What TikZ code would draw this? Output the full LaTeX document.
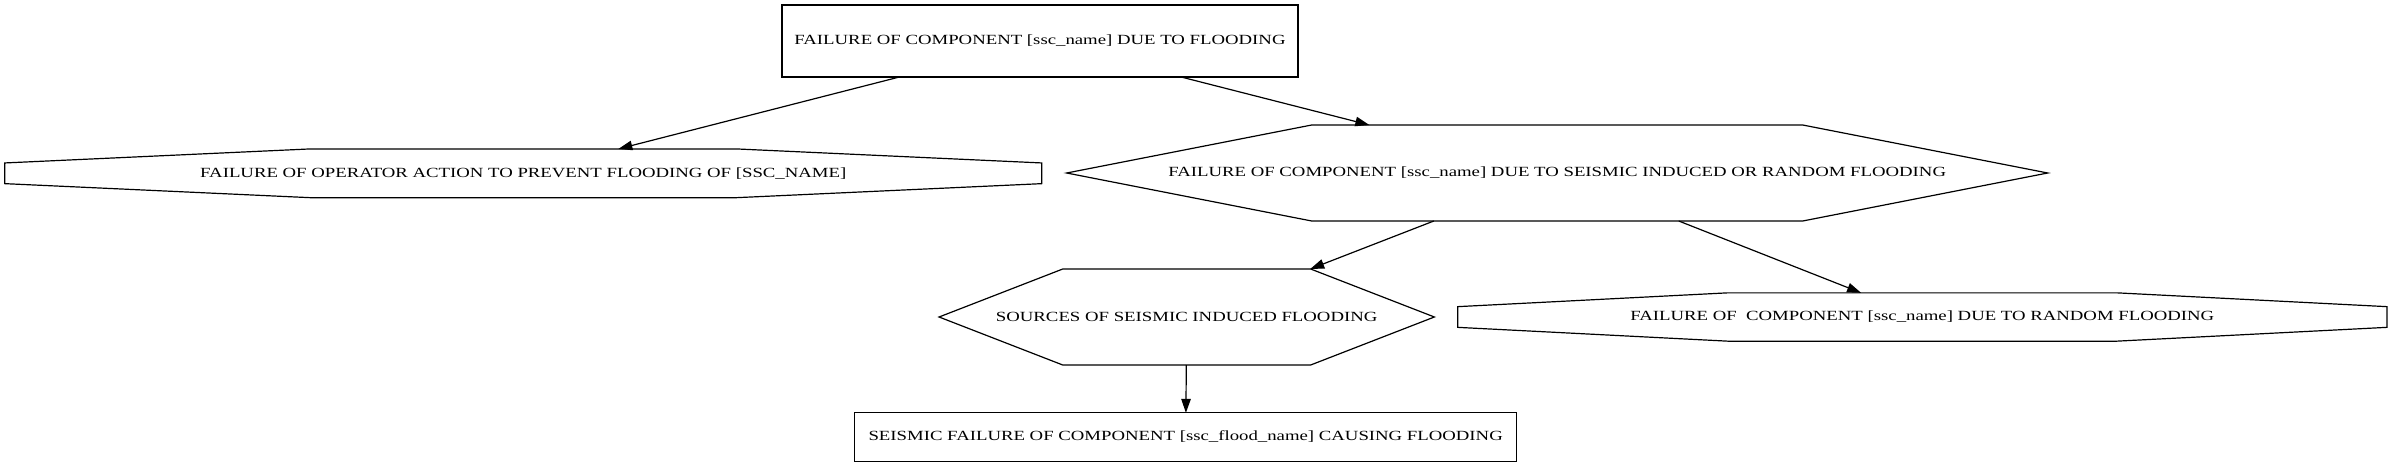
\documentclass[tikz,border=0pt]{standalone}
\usepackage{fontspec}
\setmainfont{Liberation Serif}[FakeStretch=1.34]
\usetikzlibrary{arrows.meta}
\tikzset{
    %Define standard arrow tip
    >={Triangle[length=14pt,width=9.5pt]},
}
% octagon outline round node #1, corners cut by #2 (x) and #3 (y)
\newcommand{\octaborder}[3]{%
  \draw ([xshift=#2]#1.north west) -- ([xshift=-#2]#1.north east)
    -- ([yshift=-#3]#1.north east) -- ([yshift=#3]#1.south east)
    -- ([xshift=-#2]#1.south east) -- ([xshift=#2]#1.south west)
    -- ([yshift=#3]#1.south west) -- ([yshift=-#3]#1.north west) -- cycle;}
% hexagon outline round node #1, points #2 long
\newcommand{\hexaborder}[2]{%
  \draw ([xshift=#2]#1.north west) -- ([xshift=-#2]#1.north east)
    -- (#1.east) -- ([xshift=-#2]#1.south east)
    -- ([xshift=#2]#1.south west) -- (#1.west) -- cycle;}

\begin{document}
\begin{tikzpicture}[
  x=1pt, y=1pt, line width=1.2pt,
  every node/.style = {shape=rectangle, inner sep=0pt, outer sep=0pt,
                       align=center, font=\fontsize{14pt}{16pt}\selectfont},
  nd/.style 2 args = {minimum width=#1, minimum height=#2} ]
  \useasboundingbox (0,0) rectangle (2395,467);
  \node [nd={516pt}{72pt}, draw] (flood) at (1040,426)
    {FAILURE OF COMPONENT [ssc\_name] DUE TO FLOODING};
  \node [nd={1037pt}{48.7pt}] (oper) at (523.3,293.7)
    {FAILURE OF OPERATOR ACTION TO PREVENT FLOODING OF [SSC\_NAME]};
  \node [nd={981pt}{96pt}] (seisrand) at (1557.2,294)
    {FAILURE OF COMPONENT [ssc\_name] DUE TO SEISMIC INDUCED OR RANDOM FLOODING};
  \node [nd={495.3pt}{96pt}] (sources) at (1186.7,150)
    {SOURCES OF SEISMIC INDUCED FLOODING};
  \node [nd={929.3pt}{48.3pt}] (random) at (1922.3,150)
    {FAILURE OF~~COMPONENT [ssc\_name] DUE TO RANDOM FLOODING};
  \node [nd={662pt}{48.3pt}, draw] (seisflood) at (1185.7,30)
    {SEISMIC FAILURE OF COMPONENT [ssc\_flood\_name] CAUSING FLOODING};
  % shapes round the texts
  \octaborder{oper}{305pt}{14pt}
  \hexaborder{seisrand}{245pt}
  \hexaborder{sources}{123.7pt}
  \octaborder{random}{270pt}{13.8pt}
  % edges
  \draw [->] (flood) -- (oper);
  \draw [->] (flood) -- (seisrand);
  \draw [->] (seisrand) -- (sources);
  \draw [->] (seisrand) -- (random);
  \draw [->] (sources) -- (seisflood);
\end{tikzpicture}
\end{document}
